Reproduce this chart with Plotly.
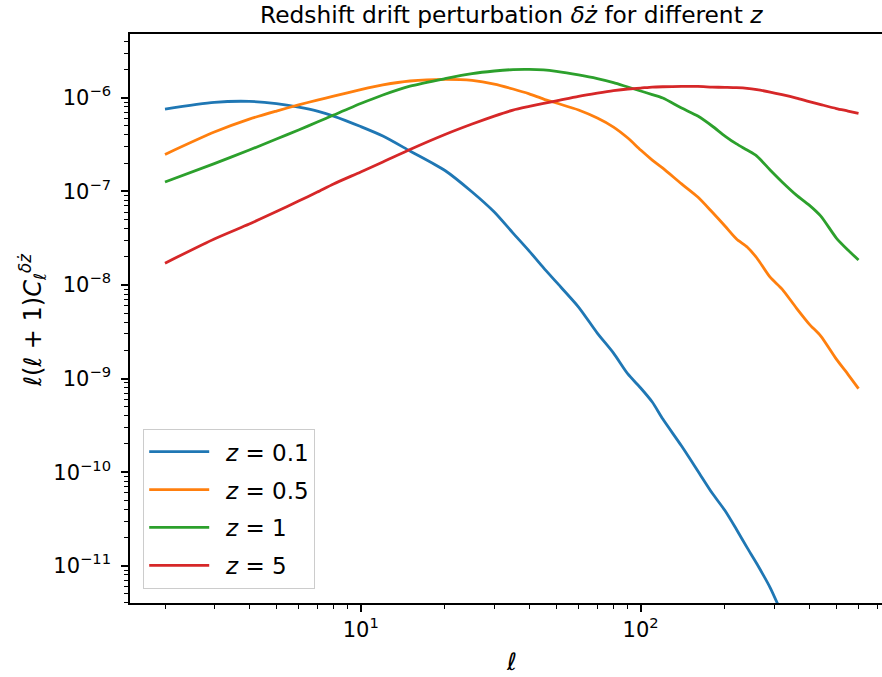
import plotly.graph_objects as go

# multipole values
ell = [2, 3, 4, 5, 6, 7, 8, 10, 12, 15, 20, 25, 30, 35, 40, 45, 50, 60, 70, 80, 90,
       100, 110, 120, 140, 160, 180, 200, 220, 240, 260, 290, 320, 360, 400, 440,
       500, 550, 600]

cl_z01 = [7.57e-7, 8.93e-7, 9.15e-7, 8.67e-7, 7.96e-7, 7.21e-7, 6.37e-7, 4.92e-7,
          3.90e-7, 2.70e-7, 1.67e-7, 9.84e-8, 6.01e-8, 3.58e-8, 2.30e-8, 1.52e-8,
          1.07e-8, 5.81e-9, 3.06e-9, 1.87e-9, 1.12e-9, 7.92e-10, 5.61e-10, 3.69e-10,
          1.90e-10, 1.03e-10, 5.98e-11, 3.89e-11, 2.44e-11, 1.56e-11, 1.05e-11,
          5.85e-12, 3.05e-12, None, None, None, None, None, None]

cl_z05 = [2.48e-7, 4.30e-7, 5.91e-7, 7.21e-7, 8.39e-7, 9.45e-7, 1.04e-6, 1.22e-6,
          1.37e-6, 1.51e-6, 1.57e-6, 1.53e-6, 1.40e-6, 1.24e-6, 1.10e-6, 9.68e-7,
          8.78e-7, 7.40e-7, 6.07e-7, 4.86e-7, 3.71e-7, 2.76e-7, 2.16e-7, 1.77e-7,
          1.20e-7, 8.69e-8, 6.01e-8, 4.26e-8, 3.09e-8, 2.54e-8, 1.94e-8, 1.21e-8,
          9.03e-9, 5.66e-9, 3.82e-9, 2.84e-9, 1.61e-9, 1.11e-9, 7.81e-10]

cl_z1 = [1.26e-7, 1.98e-7, 2.76e-7, 3.62e-7, 4.52e-7, 5.50e-7, 6.53e-7, 8.67e-7,
         1.07e-6, 1.33e-6, 1.60e-6, 1.81e-6, 1.93e-6, 2.00e-6, 2.01e-6, 1.98e-6,
         1.91e-6, 1.75e-6, 1.60e-6, 1.45e-6, 1.30e-6, 1.18e-6, 1.08e-6, 9.93e-7,
         7.76e-7, 6.37e-7, 4.99e-7, 3.90e-7, 3.21e-7, 2.76e-7, 2.38e-7, 1.69e-7,
         1.26e-7, 9.12e-8, 7.13e-8, 5.44e-8, 3.17e-8, 2.36e-8, 1.85e-8]

cl_z5 = [1.71e-8, 3.10e-8, 4.48e-8, 6.08e-8, 7.87e-8, 9.82e-8, 1.20e-7, 1.61e-7,
         2.06e-7, 2.80e-7, 4.05e-7, 5.24e-7, 6.37e-7, 7.39e-7, 8.09e-7, 8.71e-7,
         9.27e-7, 1.035e-6, 1.12e-6, 1.19e-6, 1.24e-6, 1.27e-6, 1.30e-6, 1.31e-6,
         1.32e-6, 1.32e-6, 1.30e-6, 1.29e-6, 1.28e-6, 1.26e-6, 1.22e-6, 1.15e-6,
         1.08e-6, 9.93e-7, 9.10e-7, 8.45e-7, 7.67e-7, 7.21e-7, 6.81e-7]

series_names = ["\u00a0\u2009<i>z</i> = 0.1", "\u00a0\u2009<i>z</i> = 0.5",
                "\u00a0\u2009<i>z</i> = 1", "\u00a0\u2009<i>z</i> = 5"]
series_colors = ["#1f77b4", "#ff7f0e", "#2ca02c", "#d62728"]

x_tickvals = [10, 100]
x_ticktext = ["10<sup>1</sup>", "10<sup>2</sup>"]
y_tickvals = [1e-11, 1e-10, 1e-9, 1e-8, 1e-7, 1e-6]
y_ticktext = ["10<sup>−11</sup>", "10<sup>−10</sup>", "10<sup>−9</sup>",
              "10<sup>−8</sup>", "10<sup>−7</sup>", "10<sup>−6</sup>"]

x_minor = [m * 10 ** e for e in range(0, 3) for m in range(2, 10)]
y_minor = [m * 10.0 ** e for e in range(-12, -5) for m in range(2, 10)]

fig = go.Figure()
for i, (vals, nm, col) in enumerate(zip([cl_z01, cl_z05, cl_z1, cl_z5], series_names, series_colors)):
    fig.add_trace(go.Scatter(x=ell, y=vals, mode="lines", name=nm,
                             line=dict(color=col, width=2.8, shape="spline", smoothing=0.7),
                             legendgroup="g%d" % i))

font_family = "DejaVu Sans"
axis_common = dict(type="log", showgrid=False, zeroline=False, showline=True,
                   linecolor="black", linewidth=1.5, ticks="outside", ticklen=7,
                   tickwidth=1.5, tickcolor="black",
                   tickfont=dict(family=font_family, size=21, color="black"))

fig.update_layout(
    width=882, height=677,
    margin=dict(l=130, r=0, t=34, b=74),
    paper_bgcolor="white", plot_bgcolor="white",
    font=dict(family=font_family, color="black"),
    title=dict(text="Redshift drift perturbation <i>δż</i> for different <i>z</i>",
               x=0.507, xref="paper", xanchor="center",
               y=1 - 15 / 677, yref="container", yanchor="middle",
               font=dict(family=font_family, size=23.3, color="black")),
    xaxis=dict(range=[0.176, 2.862], tickvals=x_tickvals, ticktext=x_ticktext,
               mirror=True,
               minor=dict(ticks="outside", ticklen=4, tickwidth=1.1, tickcolor="black",
                          tickvals=x_minor, showgrid=False),
               **axis_common),
    yaxis=dict(range=[-11.398, -5.319], tickvals=y_tickvals, ticktext=y_ticktext,
               mirror=False, ticklabelstandoff=6,
               minor=dict(ticks="outside", ticklen=4, tickwidth=1.1, tickcolor="black",
                          tickvals=y_minor, showgrid=False),
               **axis_common),
    legend=dict(x=0.0173, y=0.0246, xanchor="left", yanchor="bottom",
                bgcolor="rgba(255,255,255,0.8)", bordercolor="#cccccc", borderwidth=1.2,
                font=dict(family=font_family, size=23, color="black"),
                itemwidth=60, tracegroupgap=5, entrywidth=190),
    showlegend=True,
)

fig.add_annotation(text="<i>ℓ</i>(<i>ℓ</i> + 1)<i>C</i><sub><i>ℓ</i></sub><sup><i>δż</i></sup>",
                   x=-(130 - 33) / 752, y=(603 - 320) / 569, xref="paper", yref="paper",
                   xanchor="center", yanchor="middle", textangle=-90, showarrow=False,
                   font=dict(family=font_family, size=24, color="black"))
fig.add_annotation(text="<i>ℓ</i>", x=(511 - 130) / 752, y=-(662 - 603) / 569,
                   xref="paper", yref="paper", xanchor="center", yanchor="middle",
                   showarrow=False, font=dict(family=font_family, size=24, color="black"))

fig.write_html("out.html", config={"displayModeBar": False},
               post_script="document.body.style.margin='0';document.body.style.overflow='hidden';")
